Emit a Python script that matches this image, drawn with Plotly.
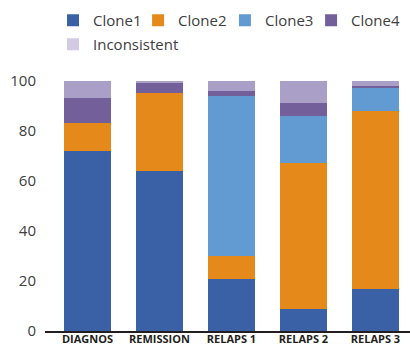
import plotly.graph_objects as go

categories = ["DIAGNOS", "REMISSION", "RELAPS 1", "RELAPS 2", "RELAPS 3"]
clone1 = [72.1, 64.0, 20.7, 8.7, 16.7]
clone2 = [11.1, 31.2, 9.3, 58.5, 71.3]
clone3 = [0.0, 0.0, 64.1, 18.8, 9.2]
clone4 = [10.0, 4.0, 1.9, 5.2, 0.8]
inconsistent = [6.8, 0.8, 4.0, 8.8, 2.0]
y_ticks = [0, 20, 40, 60, 80, 100]

series = [
    ("Clone1", clone1, "#3a60a6", "#3a60a6"),
    ("Clone2", clone2, "#e58a1a", "#e58a1a"),
    ("Clone3", clone3, "#629ad2", "#629ad2"),
    ("Clone4", clone4, "#735f99", "#735f99"),
    ("Inconsistent", inconsistent, "#aa9fc6", "#d2cbe3"),
]
legend_ids = ["legend", "legend2", "legend3", "legend4", "legend5"]
legend_pos = [(0.022, 1.308), (0.255, 1.308), (0.493, 1.308), (0.729, 1.308), (0.022, 1.212)]

fig = go.Figure()
for (name, vals, col, legcol), leg in zip(series, legend_ids):
    fig.add_trace(go.Bar(x=categories, y=vals, name=name, marker_color=col,
                         marker_line_width=0, showlegend=(col == legcol),
                         legendgroup=name, legend=leg))
    if col != legcol:
        fig.add_trace(go.Bar(x=[None], y=[None], name=name, marker_color=legcol,
                             marker_line_width=0, legendgroup=name, legend=leg))

font_fam = "Open Sans, Noto Sans, sans-serif"
leg_common = dict(orientation="h", xanchor="left", yanchor="top",
                  font=dict(size=15, color="#404040"),
                  itemclick=False, bgcolor="rgba(0,0,0,0)")
legends = {lid: dict(x=px, y=py, **leg_common) for lid, (px, py) in zip(legend_ids, legend_pos)}

fig.update_layout(
    barmode="stack",
    bargap=0.347,
    width=410, height=346,
    margin=dict(l=45, r=0, t=81, b=15),
    paper_bgcolor="white", plot_bgcolor="white",
    font=dict(family=font_fam, color="#404040"),
    **legends,
    xaxis=dict(type="category", range=[-0.59, 4.48], showline=True,
               linecolor="#231f20", linewidth=2, showgrid=False, ticks="",
               ticklabelstandoff=-3, automargin=False,
               tickfont=dict(size=11, color="#231f20", family=font_fam, weight="bold"),
               fixedrange=True),
    yaxis=dict(range=[0, 100], tickvals=y_ticks, showgrid=False, zeroline=False,
               showline=False, ticks="", ticklabelstandoff=8, automargin=False,
               tickfont=dict(size=15, color="#404040"), fixedrange=True),
)
fig.write_html("out.html")
